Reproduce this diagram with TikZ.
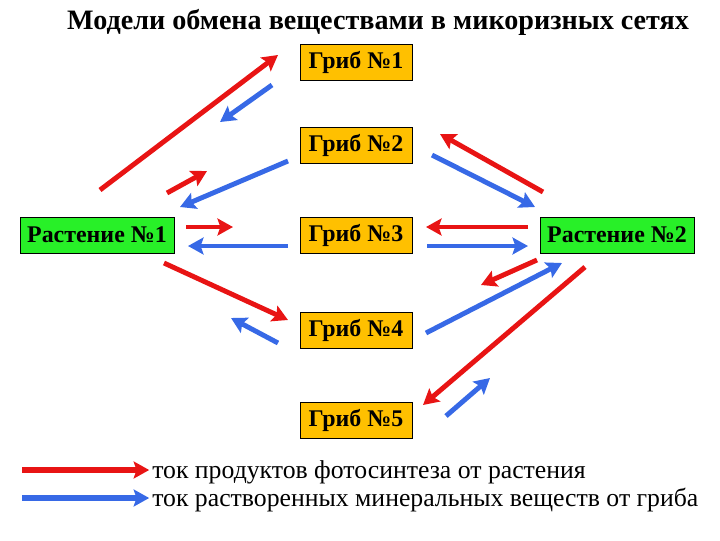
\documentclass[tikz,border=0pt]{standalone}
\usepackage{fontspec}
\setmainfont{Liberation Serif}
\usetikzlibrary{arrows.meta}

\definecolor{photored}{RGB}{232,20,20}
\definecolor{minblue}{RGB}{55,105,230}
\definecolor{fungus}{RGB}{255,192,0}
\definecolor{plant}{RGB}{40,240,40}

\begin{document}
\begin{tikzpicture}[x=0.025cm, y=-0.025cm, >={Stealth[length=11pt,width=12pt,inset=2pt]},
    fungusbox/.style={draw, thin, fill=fungus, font=\bfseries\fontsize{17}{19}\selectfont,
      minimum width=2.8cm, minimum height=0.9cm, inner sep=0pt},
    plantbox/.style={fungusbox, fill=plant, minimum width=3.85cm},
    redflow/.style={->, photored, line width=3.5pt},
    blueflow/.style={->, minblue, line width=3.5pt},
    legendtext/.style={anchor=west, inner sep=0pt, font=\fontsize{18.3}{20}\selectfont}]
    \useasboundingbox (0,0) rectangle (720,540);

    % Title
    \node[font=\bfseries\fontsize{20}{23}\selectfont] (title) at (378,22) {Модели обмена веществами в микоризных сетях};

    % Fungi
    \node[fungusbox] (g1) at (356,62) {Гриб №1};
    \node[fungusbox] (g2) at (356,145) {Гриб №2};
    \node[fungusbox] (g3) at (356,235) {Гриб №3};
    \node[fungusbox] (g4) at (356,330) {Гриб №4};
    \node[fungusbox] (g5) at (356,420) {Гриб №5};

    % Plants
    \node[plantbox] (p1) at (97,235) {Растение №1};
    \node[plantbox] (p2) at (617,235) {Растение №2};

    % Plant 1 side
    \coordinate (a1) at (100,190);  \coordinate (b1) at (278,55);
    \draw[redflow] (a1) -- (b1);
    \coordinate (a2) at (272,85);   \coordinate (b2) at (220,122);
    \draw[blueflow] (a2) -- (b2);
    \coordinate (a3) at (167,193);  \coordinate (b3) at (207,171);
    \draw[redflow] (a3) -- (b3);
    \coordinate (a4) at (288,161);  \coordinate (b4) at (180,207);
    \draw[blueflow] (a4) -- (b4);
    \coordinate (a5) at (186,227);  \coordinate (b5) at (233,227);
    \draw[redflow] (a5) -- (b5);
    \coordinate (a6) at (288,246);  \coordinate (b6) at (188,246);
    \draw[blueflow] (a6) -- (b6);
    \coordinate (a7) at (164,263);  \coordinate (b7) at (288,320);
    \draw[redflow] (a7) -- (b7);
    \coordinate (a8) at (278,343);  \coordinate (b8) at (231,318);
    \draw[blueflow] (a8) -- (b8);

    % Plant 2 side
    \coordinate (c1) at (543,192);  \coordinate (d1) at (440,134);
    \draw[redflow] (c1) -- (d1);
    \coordinate (c2) at (432,155);  \coordinate (d2) at (535,207);
    \draw[blueflow] (c2) -- (d2);
    \coordinate (c3) at (528,227);  \coordinate (d3) at (426,227);
    \draw[redflow] (c3) -- (d3);
    \coordinate (c4) at (427,246);  \coordinate (d4) at (528,246);
    \draw[blueflow] (c4) -- (d4);
    \coordinate (c5) at (537,260);  \coordinate (d5) at (481,285);
    \draw[redflow] (c5) -- (d5);
    \coordinate (c6) at (426,333);  \coordinate (d6) at (562,263);
    \draw[blueflow] (c6) -- (d6);
    \coordinate (c7) at (585,267);  \coordinate (d7) at (423,405);
    \draw[redflow] (c7) -- (d7);
    \coordinate (c8) at (446,416);  \coordinate (d8) at (490,378);
    \draw[blueflow] (c8) -- (d8);

    % Legend
    \node[legendtext] (redtext) at (152,472) {ток продуктов фотосинтеза от растения};
    \node[legendtext] (bluetext) at (152,500) {ток растворенных минеральных веществ от гриба};
    \coordinate (redstart) at (22,470);
    \coordinate (bluestart) at (22,498);
    \draw[redflow, line width=4.5pt] (redstart) -- ([xshift=-2pt]redstart -| redtext.west);
    \draw[blueflow, line width=4.5pt] (bluestart) -- ([xshift=-2pt]bluestart -| bluetext.west);
\end{tikzpicture}
\end{document}
